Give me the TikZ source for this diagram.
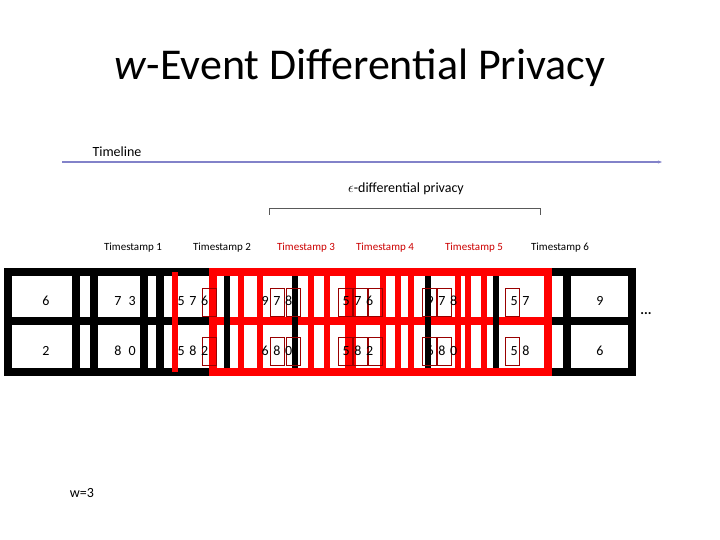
\documentclass[tikz,border=0pt]{standalone}
\usepackage{fontspec}
\setmainfont{Carlito}
\usetikzlibrary{arrows.meta}
\tikzset{
  blk/.style={draw=black, line width=8pt},
  redbar/.style={draw=red, line width=6pt},
  mark box/.style={draw=red!60!black, line width=0.6pt},
  stamp/.style={font=\fontsize{11}{13}\selectfont},
  cell/.style={font=\fontsize{14}{16}\selectfont}
}
\begin{document}
\begin{tikzpicture}[x=1pt,y=-1pt]
\useasboundingbox (0,0) rectangle (720,540);

\node[font=\fontsize{44}{48}\selectfont] (title) at (360,68) {\textit{w}-Event Differential Privacy};
\node[cell] (timeline) at (117,152) {Timeline};
\coordinate (tl0) at (62,162);
\coordinate (tl1) at (662,162);
\draw[draw=blue!40!gray!70, line width=1.2pt, -{Stealth[length=4pt]}] (tl0) -- (tl1);
\node[cell] (eps) at (406,189) {$\epsilon$-differential privacy};
\draw[gray!70!black, line width=0.6pt] (269,215) -- (269,208) -- (540,208) -- (540,215);

\node[stamp] (ts1) at (133,248) {Timestamp 1};
\node[stamp] (ts2) at (222,248) {Timestamp 2};
\node[stamp, red!80!black] (ts3) at (306,248) {Timestamp 3};
\node[stamp, red!80!black] (ts4) at (385,248) {Timestamp 4};
\node[stamp, red!80!black] (ts5) at (474,248) {Timestamp 5};
\node[stamp] (ts6) at (560,248) {Timestamp 6};

% black grid
\draw[blk] (8,272) rectangle (632,372);
\draw[blk] (8,321) -- (632,321);
\foreach \x in {76,94,144,160,567}
  \draw[blk] (\x,272) -- (\x,372);
% red window
\draw[red, line width=8pt] (213,272) rectangle (548,372);
\draw[red, line width=8pt] (213,321) -- (548,321);
\foreach \x in {175,241,260,311,327,348,353,383,398,411,458,468,484}
  \draw[redbar] (\x,272) -- (\x,372);
\foreach \x in {227,295,428,496}
  \draw[blk, line width=6pt] (\x,276) -- (\x,368);
\draw[red, line width=8pt] (213,272) -- (548,272);
\draw[red, line width=8pt] (213,372) -- (548,372);

% small boxes
\foreach \x in {202,270,286,338,353,368,422,437,505}{
  \draw[mark box] (\x,288) rectangle ++(14,28);
  \draw[mark box] (\x,337) rectangle ++(14,28);
}

% cell values
\foreach \x/\a/\b in {46/6/2, 125/{7\,\,\,3}/{8\,\,\,0}, 193/{5\,\,7\,\,6}/{5\,\,8\,\,2},
  277/{9\,\,7\,\,8}/{6\,\,8\,\,0}, 358/{5\,\,7\,\,6}/{5\,\,8\,\,2}, 442/{9\,\,7\,\,8}/{6\,\,8\,\,0},
  520/{5\,\,7}/{5\,\,8}, 600/9/6}{
  \node[cell] at (\x,301) {\a};
  \node[cell] at (\x,351) {\b};
}
\node[cell] (dots) at (646,314) {\textbf{...}};
\node[cell] (w) at (82,493) {w=3};
\end{tikzpicture}
\end{document}
